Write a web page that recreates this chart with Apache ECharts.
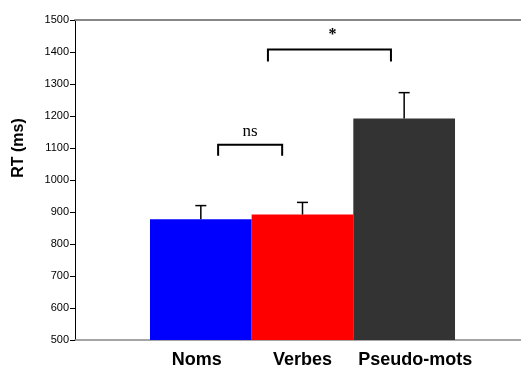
<!DOCTYPE html>
<html>
<head>
<meta charset="utf-8">
<script src="https://cdn.jsdelivr.net/npm/echarts@6/dist/echarts.min.js"></script>
<style>html,body{margin:0;padding:0;background:#fff;}#c{width:521px;height:369px;}</style>
</head>
<body>
<div id="c"></div>
<script>
var categories = ['Noms', 'Verbes', 'Pseudo-mots'];
var meanRT = [877, 892, 1192];
var errorTop = [920, 930, 1273];
var barColors = ['#0000FF', '#FF0000', '#333333'];
// brackets: [xStart, xEnd (category-index units), top value, leg-end value, label]
var bracketStart = [0.17, 0.66];
var bracketEnd = [0.80, 1.87];
var bracketTop = [1110, 1408];
var bracketLeg = [1076, 1370];
var bracketLabel = ['ns', '*'];
var yMin = 500, yMax = 1500, yStep = 100;

var chart = echarts.init(document.getElementById('c'), null, {renderer: 'canvas'});

var barData = meanRT.map(function (v, i) {
  return {value: [i, v], itemStyle: {color: barColors[i]}};
});
var errData = meanRT.map(function (v, i) { return [i, v, errorTop[i]]; });
var brData = bracketStart.map(function (s, i) {
  return [s, bracketEnd[i], bracketTop[i], bracketLeg[i], bracketLabel[i]];
});

var labFont = {fontFamily: 'Liberation Sans, Arial, sans-serif', fontWeight: 'bold', fontSize: 18, color: '#000'};

chart.setOption({
  animation: false,
  grid: [
    {left: 75, right: 0, top: 20, bottom: 29},
    {left: 150, width: 305, top: 20, bottom: 29}
  ],
  xAxis: [
    {gridIndex: 0, type: 'category', data: [''], position: 'bottom',
     axisLine: {lineStyle: {color: '#888', width: 1.5}}, axisTick: {show: false}, axisLabel: {show: false}},
    {gridIndex: 0, type: 'category', data: [''], position: 'top',
     axisLine: {lineStyle: {color: '#888', width: 2}}, axisTick: {show: false}, axisLabel: {show: false}},
    {gridIndex: 1, type: 'category', data: categories, position: 'bottom',
     axisLine: {show: false}, axisTick: {show: false},
     axisLabel: {interval: 0, margin: 11, color: '#000', fontFamily: 'Liberation Sans, Arial, sans-serif',
       fontWeight: 'bold', fontSize: 18,
       formatter: function (v, i) { return i === 2 ? '{p|' + v + '}' : (i === 0 ? '{n|' + v + '}' : v); },
       rich: {
         p: Object.assign({padding: [0, 0, 0, 22]}, labFont),
         n: Object.assign({padding: [0, 8, 0, 0]}, labFont)
       }}},
    {gridIndex: 1, type: 'value', min: -0.5, max: 2.5, show: false}
  ],
  yAxis: [
    {gridIndex: 0, type: 'value', min: yMin, max: yMax, interval: yStep,
     axisLine: {show: true, lineStyle: {color: '#000', width: 1}},
     axisTick: {show: true, length: 5, lineStyle: {color: '#000'}},
     axisLabel: {margin: 6, color: '#000', fontSize: 11, fontFamily: 'Liberation Sans, Arial, sans-serif',
       formatter: function (v) { return String(v); }},
     splitLine: {show: false}},
    {gridIndex: 1, type: 'value', min: yMin, max: yMax, show: false, splitLine: {show: false}}
  ],
  series: [
    {type: 'bar', xAxisIndex: 3, yAxisIndex: 1, data: barData, barWidth: 101.7, clip: true, z: 2},
    {type: 'custom', xAxisIndex: 3, yAxisIndex: 1, data: errData, z: 3,
     renderItem: function (params, api) {
       var b = api.coord([api.value(0), api.value(1)]);
       var t = api.coord([api.value(0), api.value(2)]);
       var st = {stroke: '#000', lineWidth: 1.5};
       return {type: 'group', children: [
         {type: 'line', shape: {x1: b[0], y1: b[1], x2: t[0], y2: t[1]}, style: st},
         {type: 'line', shape: {x1: t[0] - 5.5, y1: t[1], x2: t[0] + 5.5, y2: t[1]}, style: st}
       ]};
     }},
    {type: 'custom', xAxisIndex: 3, yAxisIndex: 1, data: brData, z: 4, clip: false,
     renderItem: function (params, api) {
       var a = api.coord([api.value(0), api.value(2)]);
       var b = api.coord([api.value(1), api.value(2)]);
       var la = api.coord([api.value(0), api.value(3)]);
       var lb = api.coord([api.value(1), api.value(3)]);
       var lab = brData[params.dataIndex][4];
       var isStar = lab === '*';
       return {type: 'group', children: [
         {type: 'polyline', shape: {points: [[la[0], la[1]], [a[0], a[1]], [b[0], b[1]], [lb[0], lb[1]]]},
          style: {stroke: '#000', lineWidth: 2, fill: null}},
         {type: 'text', x: (a[0] + b[0]) / 2 + (isStar ? 3 : 0), y: a[1] - (isStar ? 7 : 5),
          style: {text: lab, textAlign: 'center', textVerticalAlign: 'bottom',
            font: (isStar ? 'bold 16px' : '17px') + ' "Liberation Serif", "Times New Roman", serif', fill: '#000'}}
       ]};
     }}
  ],
  graphic: [
    {type: 'text', x: 19, y: 148, rotation: Math.PI / 2,
     style: {text: 'RT (ms)', textAlign: 'center', textVerticalAlign: 'middle',
       font: 'bold 16px "Liberation Sans", Arial, sans-serif', fill: '#000'}}
  ]
});
</script>
</body>
</html>
